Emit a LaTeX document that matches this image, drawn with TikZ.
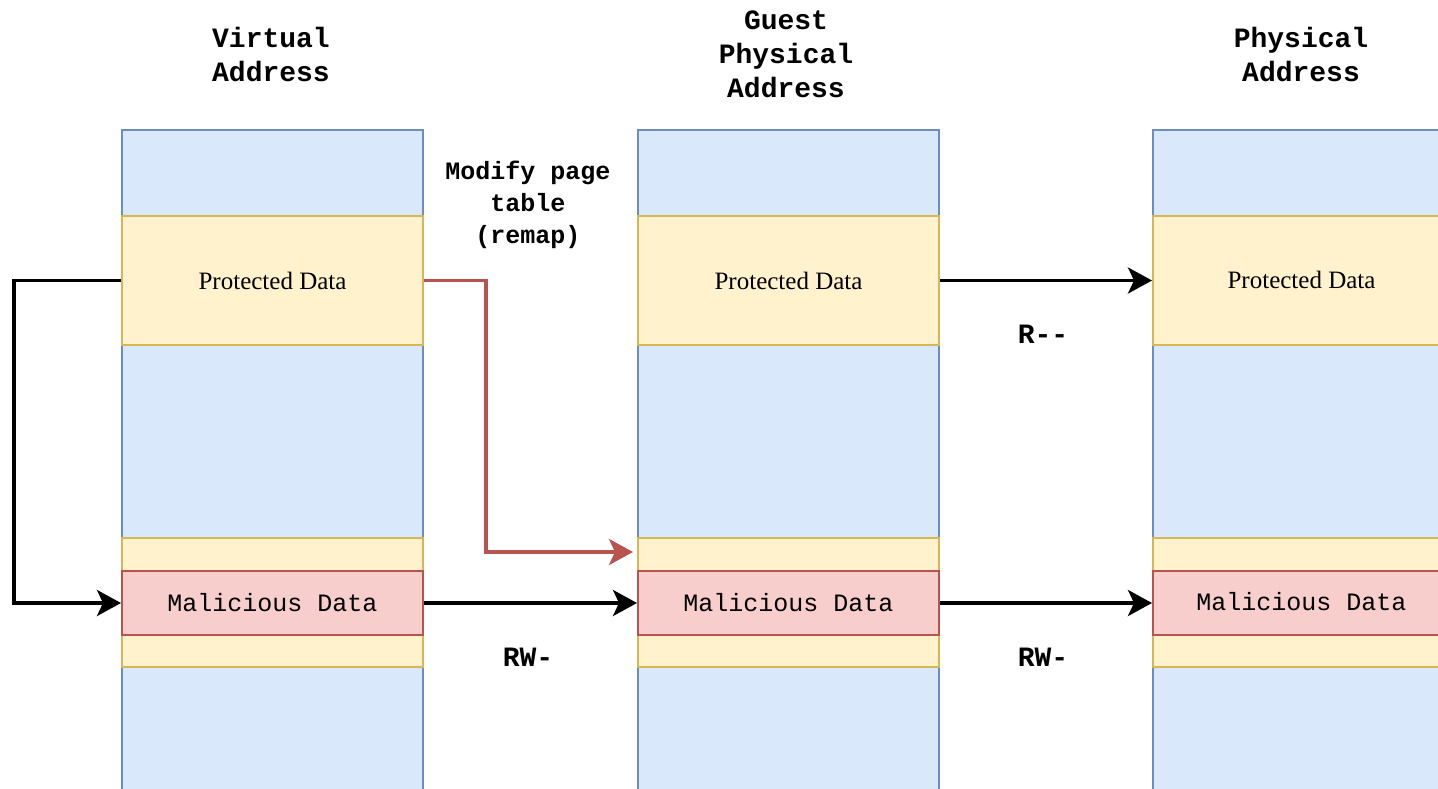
\documentclass[tikz,border=0pt]{standalone}
\usepackage{fontspec}
\setmainfont{Liberation Serif}
\setmonofont{Liberation Mono}
\usetikzlibrary{arrows.meta}
\definecolor{bfill}{HTML}{DAE8FC}
\definecolor{bline}{HTML}{6C8EBF}
\definecolor{yfill}{HTML}{FFF2CC}
\definecolor{yline}{HTML}{D6B656}
\definecolor{rfill}{HTML}{F8CECC}
\definecolor{rline}{HTML}{B85450}
\tikzset{
  colbox/.style={draw=bline, fill=bfill, line width=2pt, minimum width=301pt, minimum height=700pt, inner sep=0pt, anchor=north west},
  protbox/.style={draw=yline, fill=yfill, line width=2pt, minimum width=301pt, minimum height=129pt, inner sep=0pt, anchor=north west, font=\fontsize{25}{28}\selectfont},
  stripbox/.style={draw=yline, fill=yfill, line width=2pt, minimum width=301pt, minimum height=129pt, inner sep=0pt, anchor=north west},
  malbox/.style={draw=rline, fill=rfill, line width=2pt, minimum width=301pt, minimum height=64pt, inner sep=0pt, anchor=north west, font=\ttfamily\fontsize{25}{28}\selectfont},
  title/.style={align=center, font=\ttfamily\bfseries\fontsize{28}{34}\selectfont},
  perm/.style={font=\ttfamily\bfseries\fontsize{28}{34}\selectfont},
  note/.style={align=center, font=\ttfamily\bfseries\fontsize{25}{32}\selectfont},
  conn/.style={line width=3.5pt, -{Stealth[length=24pt,width=26pt,inset=6pt]}},
  redconn/.style={line width=3.5pt, draw=rline, -{Stealth[length=24pt,width=26pt,inset=6pt,fill=rline]}},
}
\begin{document}
\begin{tikzpicture}[x=1pt,y=-1pt]
\useasboundingbox (0,0) rectangle (1438,789);
\clip (0,0) rectangle (1438,789);
\fill[white] (0,0) rectangle (1438,789);
% columns
\node[colbox] (vcol) at (121,129) {};
\node[colbox] (gcol) at (637,129) {};
\node[colbox] (pcol) at (1152,129) {};
% protected
\node[protbox] (vprot) at (121,215) {Protected Data};
\node[protbox] (gprot) at (637,215) {Protected Data};
\node[protbox] (pprot) at (1152,215) {};
\node[font=\fontsize{25}{28}\selectfont] (pprottxt) at (1301.5,280) {Protected Data};
% strips
\node[stripbox] (vstrip) at (121,537) {};
\node[stripbox] (gstrip) at (637,537) {};
\node[stripbox] (pstrip) at (1152,537) {};
% malicious
\node[malbox] (vmal) at (121,570) {Malicious Data};
\node[malbox] (gmal) at (637,570) {Malicious Data};
\node[malbox] (pmal) at (1152,570) {};
\node[font=\ttfamily\fontsize{25}{28}\selectfont] (pmaltxt) at (1301.5,602) {Malicious Data};
% titles
\node[title] (t1) at (271,54) {Virtual\\Address};
\node[title] (t2) at (786,54) {Guest\\Physical\\Address};
\node[title] (t3) at (1301,54) {Physical\\Address};
\node[note] (mod) at (528,205) {Modify page\\table\\(remap)};
\node[perm] (p1) at (528,657) {RW-};
\node[perm] (p2) at (1043,657) {RW-};
\node[perm] (p3) at (1043,334) {R--};
% connectors
\coordinate (lx) at (14,0);
\coordinate (rx) at (486,0);
\coordinate (remapend) at (633,552);
\draw[conn] (vprot.west) -- (vprot.west -| lx) |- (vmal.west);
\draw[redconn] (vprot.east) -- (vprot.east -| rx) |- (remapend);
\draw[conn] (vmal.east) -- (gmal.west);
\draw[conn] (gmal.east) -- (pmal.west);
\draw[conn] (gprot.east) -- (pprot.west);
\end{tikzpicture}
\end{document}
